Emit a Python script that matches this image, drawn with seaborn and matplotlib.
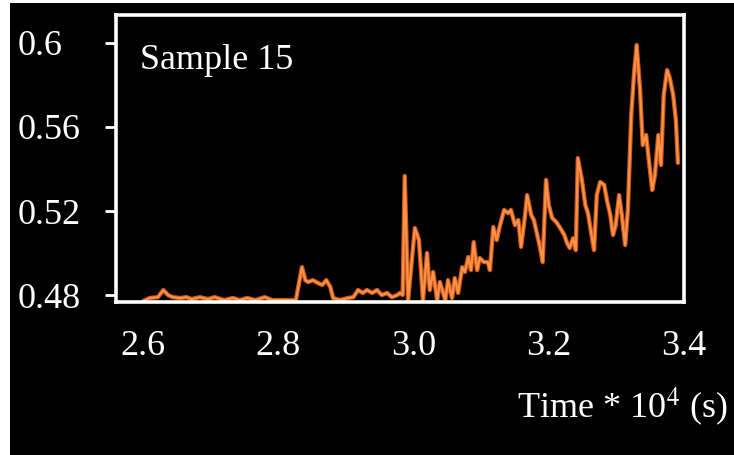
import numpy as np
import pandas as pd
import matplotlib
matplotlib.use('Agg')
import matplotlib.pyplot as plt
from matplotlib.patches import Rectangle
import seaborn as sns

# Trace (time in 10^4 s)
time = [2.600, 2.610, 2.622, 2.630, 2.637, 2.644, 2.655, 2.664, 2.672, 2.684,
        2.696, 2.706, 2.720, 2.733, 2.743, 2.754, 2.766, 2.780, 2.791, 2.810,
        2.826, 2.831, 2.835, 2.840, 2.844, 2.851, 2.859, 2.865, 2.871, 2.877,
        2.881, 2.891, 2.903, 2.911, 2.918, 2.925, 2.931, 2.939, 2.946, 2.953,
        2.961, 2.968, 2.976, 2.980, 2.984, 2.987, 2.992, 3.002, 3.008, 3.014,
        3.020, 3.024, 3.029, 3.035, 3.039, 3.047, 3.051, 3.057, 3.061, 3.066,
        3.072, 3.076, 3.081, 3.085, 3.089, 3.094, 3.098, 3.104, 3.110, 3.113,
        3.118, 3.123, 3.128, 3.134, 3.140, 3.144, 3.150, 3.155, 3.159, 3.165,
        3.168, 3.174, 3.178, 3.183, 3.187, 3.191, 3.196, 3.200, 3.205, 3.211,
        3.217, 3.223, 3.227, 3.231, 3.236, 3.240, 3.243, 3.249, 3.254, 3.258,
        3.262, 3.267, 3.271, 3.276, 3.282, 3.286, 3.291, 3.295, 3.299, 3.304,
        3.308, 3.313, 3.317, 3.322, 3.326, 3.330, 3.335, 3.339, 3.344, 3.348,
        3.353, 3.357, 3.362, 3.366, 3.370, 3.375, 3.379, 3.384, 3.388, 3.391]

signal = [0.4771, 0.4786, 0.4790, 0.4824, 0.4800, 0.4790, 0.4786, 0.4790, 0.4781, 0.4790,
          0.4781, 0.4790, 0.4776, 0.4786, 0.4776, 0.4786, 0.4776, 0.4790, 0.4776, 0.4776,
          0.4776, 0.4862, 0.4933, 0.4871, 0.4862, 0.4871, 0.4857, 0.4848, 0.4871, 0.4838,
          0.4786, 0.4776, 0.4786, 0.4790, 0.4824, 0.4810, 0.4824, 0.4810, 0.4824, 0.4800,
          0.4810, 0.4790, 0.4800, 0.4810, 0.4800, 0.5367, 0.4776, 0.5119, 0.5062, 0.4776,
          0.5000, 0.4824, 0.4910, 0.4776, 0.4862, 0.4776, 0.4871, 0.4786, 0.4881, 0.4810,
          0.4933, 0.4910, 0.4981, 0.4919, 0.5052, 0.4919, 0.4976, 0.4957, 0.4957, 0.4919,
          0.5124, 0.5062, 0.5133, 0.5205, 0.5190, 0.5205, 0.5133, 0.5157, 0.5029, 0.5181,
          0.5276, 0.5181, 0.5157, 0.5086, 0.5029, 0.4957, 0.5348, 0.5229, 0.5167, 0.5148,
          0.5119, 0.5086, 0.5048, 0.5024, 0.5071, 0.5014, 0.5452, 0.5348, 0.5229, 0.5190,
          0.5110, 0.5014, 0.5276, 0.5338, 0.5324, 0.5252, 0.5181, 0.5086, 0.5133, 0.5276,
          0.5181, 0.5038, 0.5205, 0.5657, 0.5848, 0.5990, 0.5776, 0.5514, 0.5562, 0.5443,
          0.5300, 0.5371, 0.5562, 0.5419, 0.5752, 0.5871, 0.5833, 0.5752, 0.5633, 0.5429]

x_ticks = [2.6, 2.8, 3.0, 3.2, 3.4]
x_tick_labels = ['2.6', '2.8', '3.0', '3.2', '3.4']
y_ticks = [0.48, 0.52, 0.56, 0.6]
y_tick_labels = ['0.48', '0.52', '0.56', '0.6']

df = pd.DataFrame({'time': time, 'signal': signal})

sns.set_theme(style='ticks')
plt.rcParams['font.family'] = ['Liberation Serif', 'DejaVu Serif']
plt.rcParams['mathtext.fontset'] = 'stix'

fig = plt.figure(figsize=(7.34, 4.55), dpi=100, facecolor='white')
# black panel (thin white margin on the left and top)
fig.patches.append(Rectangle((10 / 734, 0), 1, 1 - 3 / 455, transform=fig.transFigure,
                             facecolor='black', edgecolor='none', zorder=-10))

ax = fig.add_axes([116 / 734, 1 - 302 / 455, 568 / 734, 287 / 455])
ax.set_facecolor('black')

# dark orange halo + brighter core
sns.lineplot(data=df, x='time', y='signal', ax=ax, color='#c9521d', linewidth=3.2,
             estimator=None, sort=False)
sns.lineplot(data=df, x='time', y='signal', ax=ax, color='#fb9344', linewidth=1.6,
             estimator=None, sort=False)

ax.set_xlim(2.56, 3.40)
ax.set_ylim(0.4767, 0.6133)

ax.set_xticks(x_ticks)
ax.set_xticklabels(x_tick_labels)
ax.set_yticks(y_ticks)
ax.set_yticklabels(y_tick_labels)

ax.tick_params(axis='x', length=0, pad=20, colors='white', labelsize=26)
ax.tick_params(axis='y', length=8, width=2, pad=62.5, colors='white', labelsize=26)
for lab in ax.get_yticklabels():
    lab.set_horizontalalignment('left')

for spine in ax.spines.values():
    spine.set_color('white')
    spine.set_linewidth(2.6)

ax.set_ylabel('')
ax.set_xlabel('Time * 10$^4$ (s)', color='white', fontsize=26, loc='right')
ax.xaxis.set_label_coords(1.0775, -0.29)

ax.text(0.042, 0.812, 'Sample 15', transform=ax.transAxes, color='white',
        fontsize=26, ha='left', va='baseline')

plt.savefig('out.png', dpi=100, facecolor=fig.get_facecolor())
plt.close()
